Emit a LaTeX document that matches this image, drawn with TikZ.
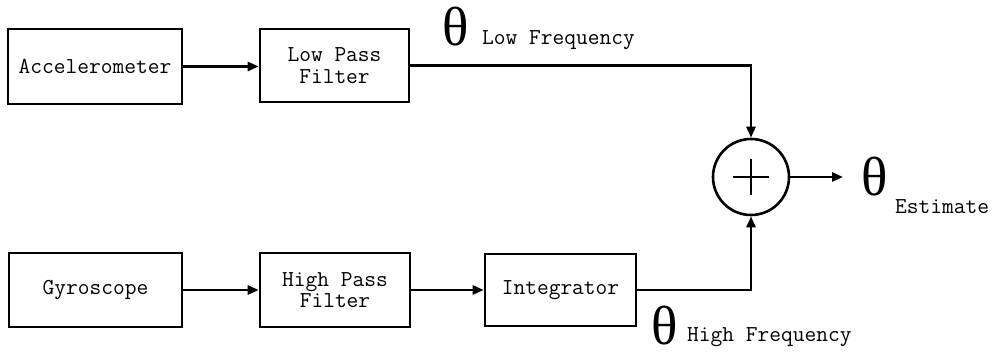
\documentclass[tikz,border=0pt]{standalone}
\usepackage{fontspec}
\newfontfamily\thetafont{Liberation Serif}
\usetikzlibrary{arrows.meta}
\begin{document}
\begin{tikzpicture}[x=1pt,y=-1pt,
  blk/.style={draw,line width=2.6pt,rectangle,inner sep=0pt,align=center,
    font=\ttfamily\fontsize{22.8}{21.5}\selectfont},
  conn/.style={line width=2.6pt},
  arr/.style={conn,-{Triangle[length=11pt,width=9pt]}},
  th/.style={inner sep=0pt,font=\thetafont\fontsize{55}{55}\selectfont},
  lbl/.style={inner sep=0pt,font=\ttfamily\fontsize{22.8}{20}\selectfont}]
\useasboundingbox (0,0) rectangle (993,352);
\node[blk,minimum width=174pt,minimum height=75pt] (acc) at (95,66.5) {Accelerometer};
\node[blk,minimum width=149pt,minimum height=73pt] (lpf) at (334.5,65.5) {Low Pass\\Filter};
\node[blk,minimum width=173pt,minimum height=74pt] (gyro) at (95.5,290) {Gyroscope};
\node[blk,minimum width=150pt,minimum height=74pt] (hpf) at (335,290) {High Pass\\Filter};
\node[blk,minimum width=151pt,minimum height=72pt] (integ) at (560.5,290) {Integrator};
\node[draw,circle,line width=2.6pt,minimum size=76pt,inner sep=0pt] (sum) at (751,177) {};
\draw[conn] ([xshift=-18pt]sum.center) -- ([xshift=18pt]sum.center);
\draw[conn] ([yshift=-18pt]sum.center) -- ([yshift=18pt]sum.center);
\node[th] (thL) at (456,27) {θ};
\node[lbl,anchor=west] (lowf) at (482,40) {Low Frequency};
\node[th] (thH) at (665,326) {θ};
\node[lbl,anchor=west] (highf) at (687,337) {High Frequency};
\node[th] (thE) at (875,177) {θ};
\node[lbl,anchor=west] (est) at (895,207) {Estimate};
\coordinate (outend) at (843,177);
\draw[arr] (acc.east) -- (acc.east -| lpf.west);
\draw[arr] (gyro.east) -- (gyro.east -| hpf.west);
\draw[arr] (hpf.east) -- (hpf.east -| integ.west);
\draw[arr] (lpf.east) -| (sum.north);
\draw[arr] (integ.east) -| (sum.south);
\draw[arr] (sum.east) -- (outend);
\end{tikzpicture}
\end{document}
